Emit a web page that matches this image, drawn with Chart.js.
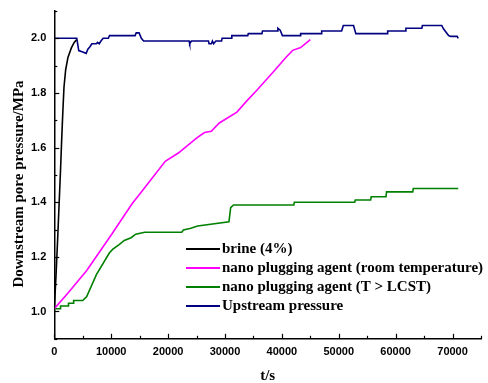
<!DOCTYPE html>
<html>
<head>
<meta charset="utf-8">
<script src="https://cdn.jsdelivr.net/npm/chart.js@4.4.1/dist/chart.umd.min.js"></script>
<style>
  body { margin: 0; background: #fff; }
  canvas { display: block; }
</style>
</head>
<body>
<canvas id="chart" width="488" height="383"></canvas>
<script>
// time (s) / downstream pressure (MPa)
const brineT = [0, 300, 600, 900, 1100, 1300, 1500, 1700, 2000, 2400, 3000, 3500, 3900];
const brineP = [1.01, 1.13, 1.27, 1.42, 1.52, 1.63, 1.73, 1.82, 1.885, 1.93, 1.965, 1.985, 1.995];

const roomT = [0, 2300, 5700, 10000, 13700, 15200, 19500, 21800, 25000, 26400,
               27600, 29000, 32100, 33800, 35600, 38400, 40700, 41900, 43300, 45000];
const roomP = [1.01, 1.065, 1.15, 1.28, 1.395, 1.435, 1.55, 1.58, 1.635, 1.655,
               1.66, 1.69, 1.73, 1.77, 1.81, 1.875, 1.93, 1.956, 1.966, 1.995];

const lcstT = [0, 1100, 1100, 2500, 2500, 3400, 3400, 5000,
               5700, 7400, 9700, 10300, 11400, 12300, 13500, 14300, 15900,
               22400, 22700, 24000, 25200, 30700, 31000, 31500,
               42100, 42200, 52800, 52900, 55600, 55700, 58300, 58400, 63000, 63100, 71000];
const lcstP = [1.01, 1.01, 1.02, 1.02, 1.03, 1.03, 1.04, 1.04,
               1.055, 1.135, 1.215, 1.228, 1.245, 1.26, 1.27, 1.283, 1.29,
               1.29, 1.298, 1.305, 1.313, 1.328, 1.38, 1.39,
               1.39, 1.40, 1.40, 1.408, 1.408, 1.42, 1.42, 1.438, 1.438, 1.45, 1.45];

const upT = [0, 3950, 4300, 5000, 5600, 5900, 6300, 6600, 7400, 7600,
             7900, 8200, 8600, 9500, 9700, 14200, 14400, 14900, 15300, 15700,
             23700, 23800, 24100, 27100, 27200, 27600, 27800, 28000, 28400, 29400,
             29500, 31100, 31200, 34000, 34100, 36500, 36600, 39200, 39300, 39700,
             40100, 43200, 43300, 46900, 47000, 50500, 50800, 52600, 53000, 58500,
             58600, 61700, 61800, 64600, 64700, 68100, 68400, 69300, 69700, 70800,
             71000];
const upP = [2.0, 2.0, 1.955, 1.95, 1.945, 1.96, 1.97, 1.98, 1.98, 1.985,
             1.98, 1.99, 2.0, 2.0, 2.01, 2.01, 2.02, 2.02, 2.0, 1.99,
             1.99, 1.98, 1.99, 1.99, 1.98, 1.98, 1.99, 1.98, 1.99, 1.99,
             2.0, 2.0, 2.01, 2.01, 2.017, 2.017, 2.027, 2.027, 2.037, 2.03,
             2.01, 2.01, 2.017, 2.017, 2.027, 2.027, 2.047, 2.047, 2.017, 2.017,
             2.027, 2.027, 2.037, 2.037, 2.047, 2.047, 2.035, 2.01, 2.007, 2.007,
             2.0];

const seriesNames = ['brine (4%)', 'nano plugging agent (room temperature)',
                     'nano plugging agent (T > LCST)', 'Upstream pressure'];
const seriesColors = ['#000000', '#ff00ff', '#008000', '#000080'];
const xTitle = 't/s';
const yTitle = 'Downstream pore pressure/MPa';

function toPoints(xs, ys) {
    return xs.map((x, i) => ({ x: x, y: ys[i] }));
}

const serif = 'Liberation Serif, Times New Roman, serif';
const sans = 'Liberation Sans, Arial, sans-serif';

// inward ticks, y title and the legend box inside the plot
const decor = {
    id: 'decor',
    afterDatasetsDraw(chart) {
        const ctx = chart.ctx;
        const area = chart.chartArea;
        const xs = chart.scales.x;
        const ys = chart.scales.y;
        ctx.save();
        ctx.strokeStyle = '#000';
        ctx.lineWidth = 1.2;
        xs.ticks.forEach(t => {
            const px = Math.round(xs.getPixelForValue(t.value)) + 0.5;
            const len = t.label ? 5 : 3;
            ctx.beginPath();
            ctx.moveTo(px, area.bottom);
            ctx.lineTo(px, area.bottom - len);
            ctx.stroke();
        });
        ys.ticks.forEach(t => {
            const py = Math.round(ys.getPixelForValue(t.value)) + 0.5;
            const len = t.label ? 5 : 3;
            ctx.beginPath();
            ctx.moveTo(area.left, py);
            ctx.lineTo(area.left + len, py);
            ctx.stroke();
        });

        // y title
        ctx.fillStyle = '#000';
        ctx.font = 'bold 15px ' + serif;
        ctx.textAlign = 'center';
        ctx.textBaseline = 'middle';
        ctx.translate(19, 184);
        ctx.rotate(-Math.PI / 2);
        ctx.fillText(yTitle, 0, 0);
        ctx.setTransform(1, 0, 0, 1, 0, 0);

        // legend
        const lx = 186;
        const ly = 249;
        ctx.textAlign = 'left';
        ctx.lineWidth = 2;
        ctx.font = 'bold 15px ' + serif;
        seriesNames.forEach((name, i) => {
            const y = ly + i * 19;
            ctx.strokeStyle = seriesColors[i];
            ctx.beginPath();
            ctx.moveTo(lx, y);
            ctx.lineTo(lx + 34, y);
            ctx.stroke();
            ctx.fillStyle = '#000';
            ctx.fillText(name, lx + 36, y);
        });
        ctx.restore();
    }
};

const allSeries = [
    toPoints(brineT, brineP),
    toPoints(roomT, roomP),
    toPoints(lcstT, lcstP),
    toPoints(upT, upP)
];

new Chart(document.getElementById('chart'), {
    type: 'line',
    data: {
        datasets: allSeries.map((pts, i) => ({
            label: seriesNames[i],
            data: pts,
            borderColor: seriesColors[i],
            backgroundColor: seriesColors[i],
            borderWidth: 1.6,
            pointRadius: 0,
            tension: 0,
            fill: false
        }))
    },
    options: {
        responsive: false,
        animation: false,
        layout: { padding: { left: 23, top: 11, right: 0, bottom: -2 } },
        plugins: {
            legend: { display: false },
            tooltip: { enabled: false }
        },
        scales: {
            x: {
                type: 'linear',
                min: 0,
                max: 75000,
                grid: { display: false, drawTicks: false },
                border: { display: true, color: '#000', width: 1.5 },
                ticks: {
                    stepSize: 5000,
                    autoSkip: false,
                    maxRotation: 0,
                    padding: 7,
                    color: '#000',
                    font: { family: sans, weight: 'bold', size: 11 },
                    callback: v => (v % 10000 === 0 ? String(v) : '')
                },
                title: {
                    display: true,
                    text: xTitle,
                    color: '#000',
                    font: { family: serif, weight: 'bold', size: 15 },
                    padding: { top: 1, bottom: 0 }
                }
            },
            y: {
                min: 0.9,
                max: 2.1,
                afterFit: s => { s.paddingTop = 0; s.paddingBottom = 0; },
                grid: { display: false, drawTicks: false },
                border: { display: true, color: '#000', width: 1.5 },
                ticks: {
                    stepSize: 0.1,
                    autoSkip: false,
                    padding: 8,
                    color: '#000',
                    font: { family: sans, weight: 'bold', size: 11 },
                    callback: v => {
                        const k = Math.round(v * 10);
                        return k % 2 === 0 ? (k / 10).toFixed(1) : '';
                    }
                }
            }
        }
    },
    plugins: [decor]
});
</script>
</body>
</html>
